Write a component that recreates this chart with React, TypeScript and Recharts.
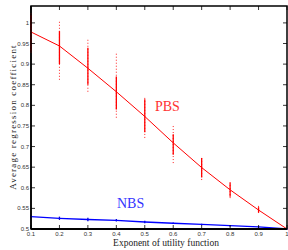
import { ComposedChart, Line, XAxis, YAxis, ErrorBar, ReferenceArea } from "recharts"

// x values (exponent of utility function)
const exponents = [0.1, 0.2, 0.3, 0.4, 0.5, 0.6, 0.7, 0.8, 0.9, 1]

// PBS mean and spread of the scattered runs
const pbsMean = [0.978, 0.944, 0.89, 0.833, 0.773, 0.709, 0.649, 0.595, 0.546, 0.5]
const pbsDenseLow = [0.93, 0.9, 0.85, 0.79, 0.735, 0.68, 0.625, 0.578, 0.54, 0.5]
const pbsDenseHigh = [1.02, 0.98, 0.94, 0.87, 0.815, 0.73, 0.672, 0.612, 0.553, 0.5]
const pbsLow = [0.927, 0.862, 0.833, 0.77, 0.721, 0.66, 0.619, 0.575, 0.539, 0.5]
const pbsHigh = [1.024, 1.007, 0.959, 0.93, 0.818, 0.752, 0.675, 0.617, 0.556, 0.5]

// NBS mean and small spread
const nbsMean = [0.53, 0.526, 0.523, 0.521, 0.517, 0.514, 0.511, 0.508, 0.505, 0.5]
const nbsSpread = [0.004, 0.004, 0.004, 0.003, 0.003, 0.002, 0.002, 0.002, 0.002, 0.001]

const xTicks = [0.1, 0.2, 0.3, 0.4, 0.5, 0.6, 0.7, 0.8, 0.9, 1]
const yTicks = [0.5, 0.55, 0.6, 0.65, 0.7, 0.75, 0.8, 0.85, 0.9, 0.95, 1]

const data = exponents.map((x, i) => ({
  x,
  pbs: pbsMean[i],
  pbsDense: [pbsMean[i] - pbsDenseLow[i], pbsDenseHigh[i] - pbsMean[i]],
  pbsRange: [pbsMean[i] - pbsLow[i], pbsHigh[i] - pbsMean[i]],
  nbs: nbsMean[i],
  nbsErr: nbsSpread[i],
}))

const PLOT_TOP = 6
const PLOT_RIGHT = 287

const XTick = ({ x, y, payload }: any) => (
  <g>
    <line x1={x} y1={y} x2={x} y2={y - 4} stroke="#000" strokeWidth={0.8} />
    <line x1={x} y1={PLOT_TOP} x2={x} y2={PLOT_TOP + 4} stroke="#000" strokeWidth={0.8} />
    <text x={x} y={y + 7} textAnchor="middle" fontSize={6} fill="#333" fontFamily="Liberation Sans">
      {payload.value}
    </text>
  </g>
)

const YTick = ({ x, y, payload }: any) => (
  <g>
    <line x1={x} y1={y} x2={x + 4} y2={y} stroke="#000" strokeWidth={0.8} />
    <line x1={PLOT_RIGHT} y1={y} x2={PLOT_RIGHT - 4} y2={y} stroke="#000" strokeWidth={0.8} />
    <text x={x - 2} y={y + 2} textAnchor="end" fontSize={6} fill="#333" fontFamily="Liberation Sans">
      {payload.value}
    </text>
  </g>
)

export default function App() {
  return (
    <div style={{ position: "fixed", left: 0, top: 0, background: "#fff" }}>
      <ComposedChart
        width={288}
        height={250}
        data={data}
        margin={{ top: PLOT_TOP, right: 1, left: 0, bottom: 0 }}
      >
        <XAxis
          dataKey="x"
          type="number"
          domain={[0.1, 1]}
          ticks={xTicks}
          height={21}
          tickLine={false}
          tickSize={0}
          tickMargin={0}
          axisLine={{ stroke: "#000", strokeWidth: 2 }}
          tick={<XTick />}
          interval={0}
        />
        <YAxis
          type="number"
          domain={[0.5, 1.041]}
          ticks={yTicks}
          width={31}
          tickLine={false}
          tickSize={0}
          tickMargin={0}
          axisLine={{ stroke: "#000", strokeWidth: 1.5 }}
          tick={<YTick />}
          interval={0}
          allowDataOverflow
        />
        <ReferenceArea
          x1={0.1}
          x2={1}
          y1={0.5}
          y2={1.041}
          fill="none"
          stroke="#000"
          strokeWidth={1.5}
          fillOpacity={0}
        />
        <Line
          dataKey="pbs"
          stroke="#ff0000"
          strokeWidth={1}
          dot={false}
          isAnimationActive={false}
        >
          <ErrorBar dataKey="pbsRange" width={0} stroke="#ff2020" strokeWidth={1} strokeDasharray="1 2" direction="y" />
          <ErrorBar dataKey="pbsDense" width={0} stroke="#ff0000" strokeWidth={1.3} direction="y" />
        </Line>
        <Line
          dataKey="nbs"
          stroke="#0000ff"
          strokeWidth={1.3}
          dot={false}
          isAnimationActive={false}
        >
          <ErrorBar dataKey="nbsErr" width={0} stroke="#0000cc" strokeWidth={1.3} direction="y" />
        </Line>
        <text x={155} y={111} fontSize={14} fill="#ff3333" fontFamily="Liberation Serif">
          PBS
        </text>
        <text x={117} y={208} fontSize={14} fill="#3333ff" fontFamily="Liberation Serif">
          NBS
        </text>
        <text
          x={166}
          y={246}
          textAnchor="middle"
          fontSize={9.5}
          fill="#222"
          fontFamily="Liberation Serif"
        >
          Exponent of utility function
        </text>
        <text
          x={16}
          y={117}
          textAnchor="middle"
          fontSize={9}
          fill="#222"
          letterSpacing={1.2}
          fontFamily="Liberation Serif"
          transform="rotate(-90 16 117)"
        >
          Average regression coefficient
        </text>
      </ComposedChart>
    </div>
  )
}
